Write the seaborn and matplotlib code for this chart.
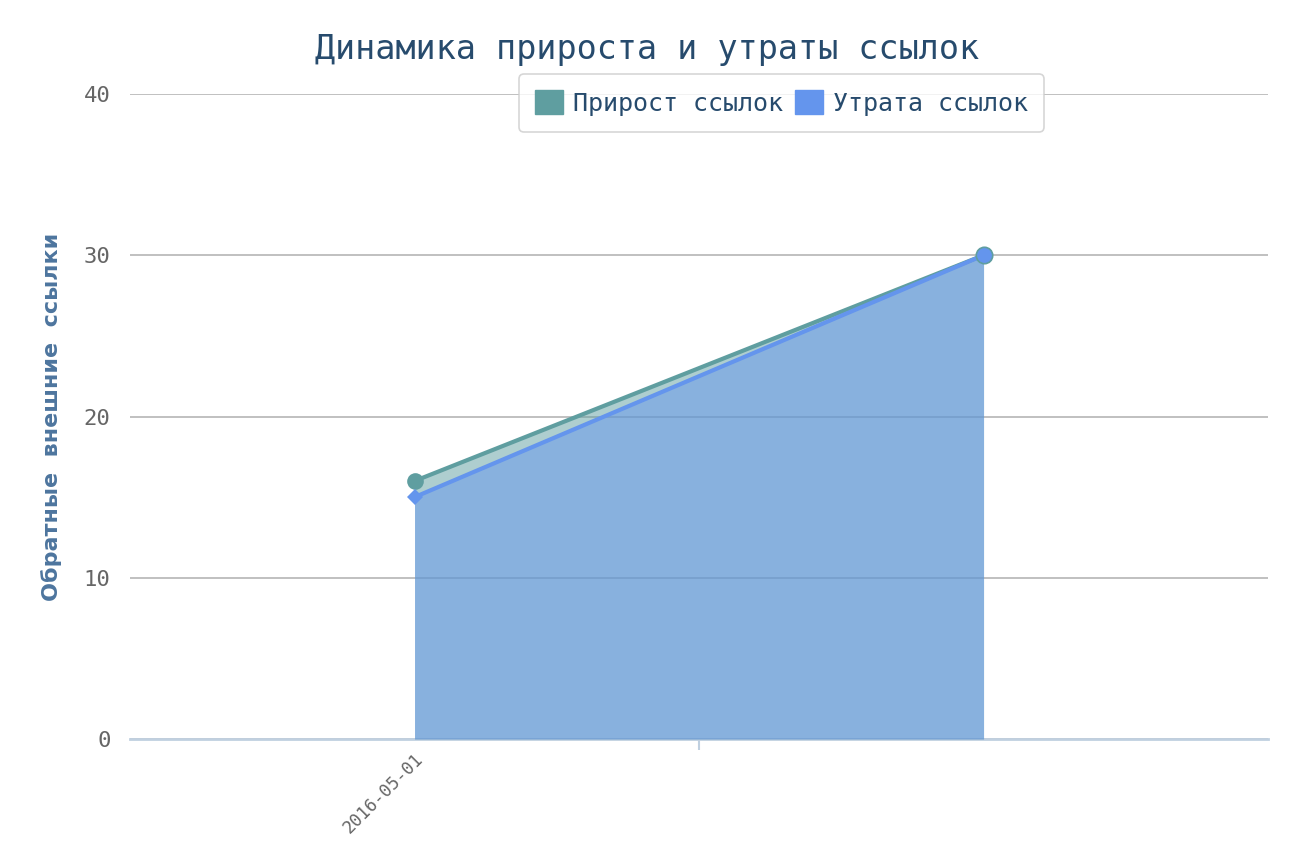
import pandas as pd
import matplotlib.pyplot as plt
import seaborn as sns
from matplotlib.patches import Patch

# data
dates = ["2016-05-01", ""]
gain = [16, 30]
loss = [15, 30]
series_names = ["Прирост ссылок", "Утрата ссылок"]

green = "#5F9EA0"
blue = "#6495ED"

sns.set_theme(style="white")
plt.rcParams["font.family"] = ["DejaVu Sans Mono", "DejaVu Sans"]

df = pd.DataFrame({"pos": range(len(dates)), "date": dates, "gain": gain, "loss": loss})

fig = plt.figure(figsize=(12.95, 8.57), dpi=100)
ax = fig.add_axes([0.1004, 0.1377, 0.9792 - 0.1004, 0.8903 - 0.1377])

# areas
ax.fill_between(df["pos"], 0, df["gain"], color=green, alpha=0.5, linewidth=0, zorder=2)
ax.fill_between(df["pos"], 0, df["loss"], color=blue, alpha=0.5, linewidth=0, zorder=3)

# lines + markers
sns.lineplot(data=df, x="pos", y="gain", color=green, linewidth=3, marker="o",
             markersize=12, markeredgewidth=0, ax=ax, zorder=4)
sns.lineplot(data=df, x="pos", y="loss", color=blue, linewidth=3, marker="D",
             markersize=8, markeredgewidth=0, markevery=[0], ax=ax, zorder=5)
ax.scatter(df["pos"].iloc[-1:], df["loss"].iloc[-1:], s=140, color=blue,
           edgecolor=green, linewidth=1.2, zorder=6)

ax.set_xlim(-0.5, 1.5)
ax.set_ylim(0, 40)
ax.set_yticks([0, 10, 20, 30, 40])
ax.set_xticks(df["pos"][:1])
ax.set_xticklabels(df["date"][:1], rotation=45, ha="right", rotation_mode="anchor",
                   fontsize=12.5, color="#666666")
ax.set_xticks([0.5], minor=True)
ax.tick_params(axis="x", which="major", length=0, pad=8)
ax.tick_params(axis="x", which="minor", length=8, width=1.5, color="#C0D0E0", bottom=True)
ax.tick_params(axis="y", length=0, pad=14, labelsize=16, labelcolor="#666666")

ax.grid(axis="y", color="#C0C0C0", linewidth=1.4)
ax.grid(axis="x", visible=False)
for s in ["top", "right", "left"]:
    ax.spines[s].set_visible(False)
ax.spines["bottom"].set_color("#C0D0E0")
ax.spines["bottom"].set_linewidth(2)
ax.spines["bottom"].set_zorder(1)

ax.set_xlabel("")
ax.set_ylabel("Обратные  внешние  ссылки", family="DejaVu Sans", fontweight="bold",
              fontsize=16, color="#4D759E", labelpad=16)

fig.text(0.5, 0.9417, "Динамика прироста и утраты ссылок", ha="center", va="center",
         fontsize=24, color="#274B6D")

handles = [Patch(facecolor=green, edgecolor=green), Patch(facecolor=blue, edgecolor=blue)]
leg = fig.legend(handles, series_names, loc="upper center", bbox_to_anchor=(0.6035, 0.9137),
                 ncol=2, frameon=True, fontsize=18, handlelength=1.1, handleheight=1.1,
                 handletextpad=0.4, columnspacing=0.5, borderpad=0.65, borderaxespad=0,
                 fancybox=True)
for t in leg.get_texts():
    t.set_color("#274B6D")
leg.get_frame().set_edgecolor("#CCCCCC")
leg.get_frame().set_linewidth(1.2)

fig.savefig("out.png", dpi=100, facecolor="white")
